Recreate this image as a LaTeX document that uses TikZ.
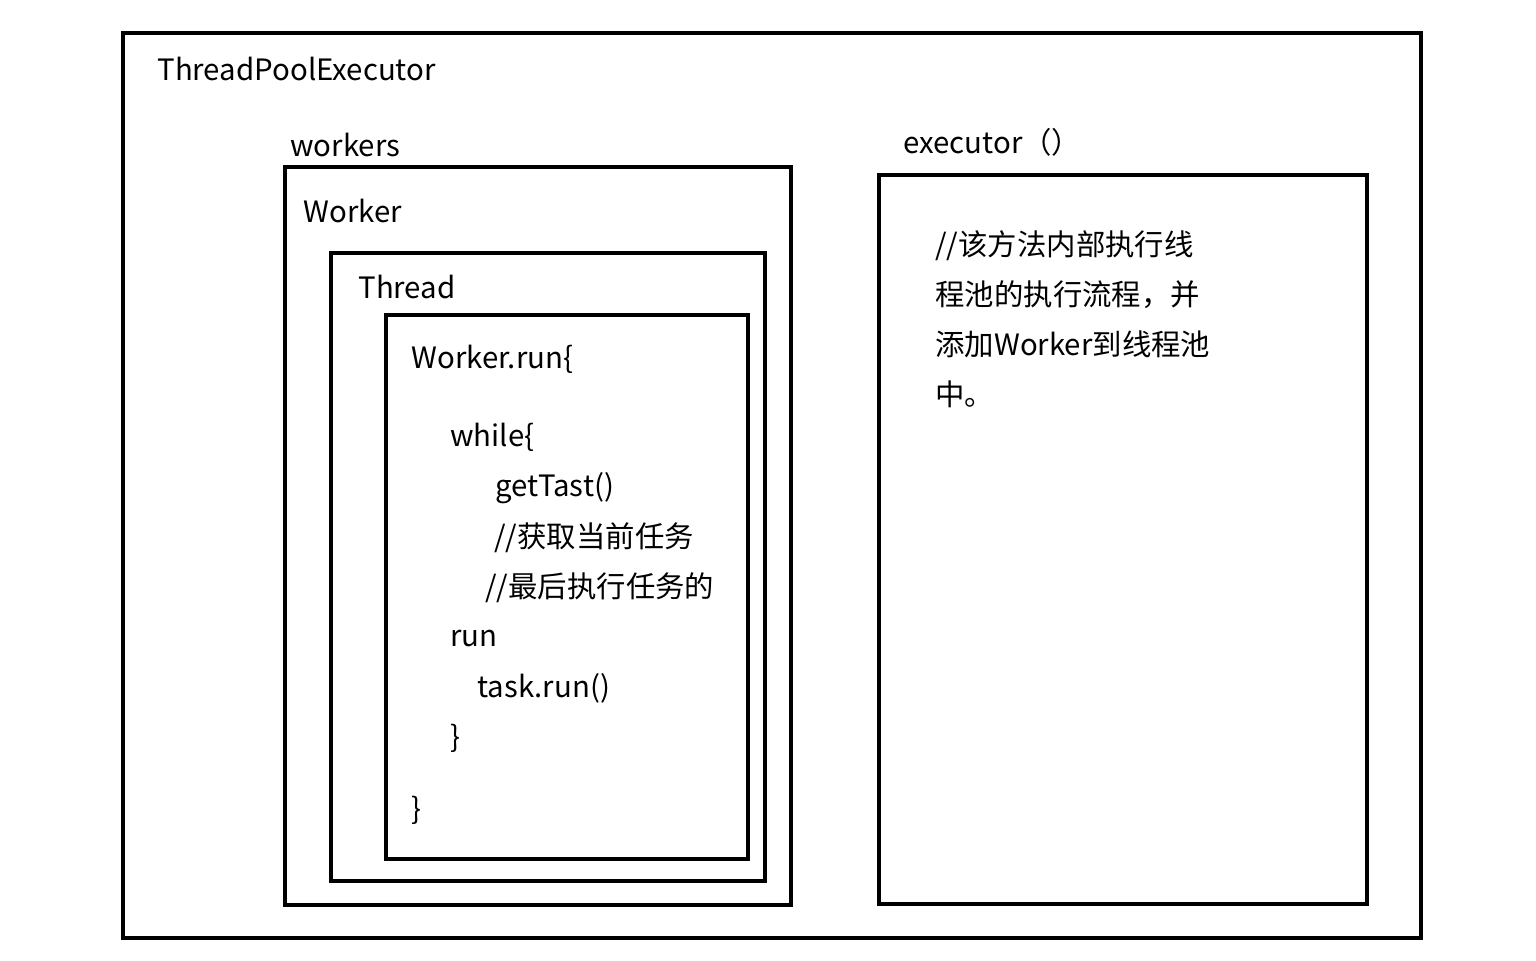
\documentclass[tikz,border=0pt]{standalone}
\usepackage{fontspec}
\setmainfont{Noto Sans CJK SC}
\begin{document}
\begin{tikzpicture}[x=0.5pt,y=-0.5pt,
  boxline/.style={draw=black,line width=2pt},
  lbl/.style={anchor=base west,inner sep=0pt,font=\fontsize{14.7pt}{17pt}\selectfont}]
\useasboundingbox (0,0) rectangle (1536,960);
\draw[boxline] (123,33) rectangle (1421,938);
\draw[boxline] (285,167) rectangle (791,905);
\draw[boxline] (331,253) rectangle (765,881);
\draw[boxline] (386,315) rectangle (748,859);
\draw[boxline] (879,175) rectangle (1367,904);
\node[lbl] (tpe) at (157,80) {ThreadPoolExecutor};
\node[lbl] (wks) at (290,156) {workers};
\node[lbl] (wkr) at (303,222) {Worker};
\node[lbl] (thr) at (358,298) {Thread};
\node[lbl] (wrun) at (411,368) {Worker.run\{};
\node[lbl] (whl) at (450,446) {while\{};
\node[lbl] (gt) at (495,496) {getTast()};
\node[lbl] (c1) at (494,547) {//获取当前任务};
\node[lbl] (c2) at (485,597) {//最后执行任务的};
\node[lbl] (rn) at (450,646) {run};
\node[lbl] (tr) at (477,697) {task.run()};
\node[lbl] (b1) at (450,747) {\}};
\node[lbl] (b2) at (411,819) {\}};
\node[lbl] (ex) at (903,153) {executor（）};
\node[lbl] (e1) at (935,255) {//该方法内部执行线};
\node[lbl] (e2) at (935,305) {程池的执行流程，并};
\node[lbl] (e3) at (935,355) {添加Worker到线程池};
\node[lbl] (e4) at (935,405) {中。};
\end{tikzpicture}
\end{document}
